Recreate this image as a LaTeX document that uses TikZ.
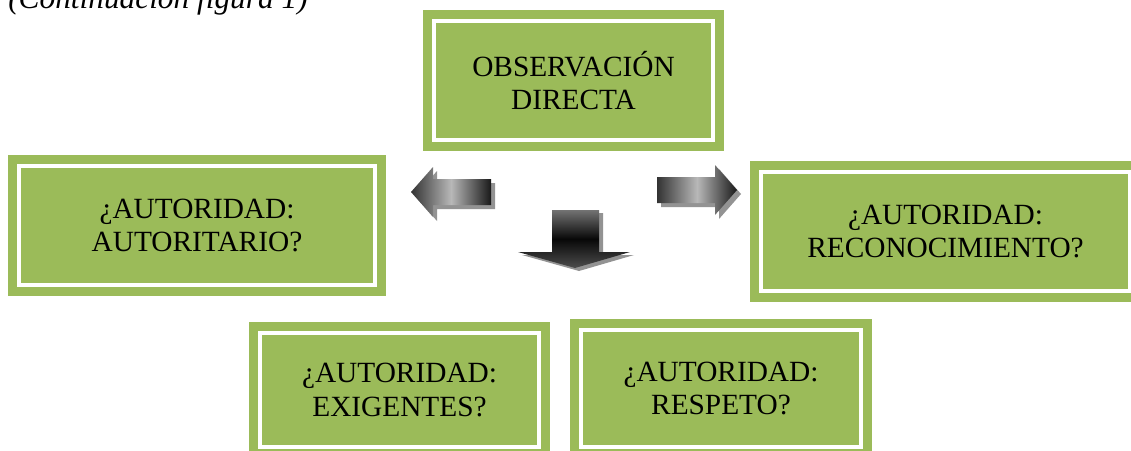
\documentclass[tikz,border=0pt]{standalone}
\usepackage{fontspec}
\setmainfont{Liberation Serif}
\usepackage{xcolor}
\usepackage{tikz}
\definecolor{V1}{HTML}{9BBB59}
\definecolor{G1}{HTML}{939393}
\tikzset{
  caja/.style={draw=V1, fill=V1, double=white, double distance=3pt, line width=6.75pt, align=center, inner sep=0pt, font=\fontsize{22}{25}\selectfont},
  sombra/.style={fill=G1},
  flechah/.style={left color=black!80, right color=black!90, middle color=black!28},
  flechav/.style={top color=black!55, bottom color=black!70, middle color=black!97},
}

\begin{document}
\begin{tikzpicture}[x=0.75pt, y=-0.75pt]%
\useasboundingbox (0,0) rectangle (1131,450);%
\clip (0,0) rectangle (1131,450);%
\node[anchor=base west, inner sep=0pt, font=\fontsize{23.5}{26}\selectfont\itshape] (titulo) at (8, 8) {(Continuación figura 1)};%
\node[caja, minimum width=209.25pt, minimum height=89.25pt] (obs) at (573.5, 80.5) {OBSERVACIÓN\\DIRECTA};%
\node[caja, minimum width=267pt, minimum height=89.25pt] (autoritario) at (197, 225.5) {¿AUTORIDAD:\\AUTORITARIO?};%
\node[caja, minimum width=276.75pt, minimum height=89.25pt] (reconocimiento) at (945.5, 231.5) {¿AUTORIDAD:\\RECONOCIMIENTO?};%
\node[caja, minimum width=209.25pt, minimum height=85.5pt] (exigentes) at (399.5, 390) {¿AUTORIDAD:\\EXIGENTES?};%
\node[caja, minimum width=210pt, minimum height=87.5pt] (respeto) at (721, 388.5) {¿AUTORIDAD:\\RESPETO?};%
% flecha izquierda
\fill[sombra, shift={(4,4)}] (411,192) -- (433,167) -- (433,179) -- (491,179) -- (491,205) -- (433,205) -- (433,217) -- cycle;%
\shade[flechah] (411,192) -- (433,167) -- (433,179) -- (491,179) -- (491,205) -- (433,205) -- (433,217) -- cycle;%
% flecha derecha
\fill[sombra, shift={(4,4)}] (657,177) -- (715,177) -- (715,165) -- (737,190) -- (715,215) -- (715,203) -- (657,203) -- cycle;%
\shade[flechah] (657,177) -- (715,177) -- (715,165) -- (737,190) -- (715,215) -- (715,203) -- (657,203) -- cycle;%
% flecha abajo
\fill[sombra, shift={(4,3)}] (552,210) -- (599,210) -- (599,252) -- (630,252) -- (575,268) -- (518,252) -- (552,252) -- cycle;%
\shade[flechav] (552,210) -- (599,210) -- (599,252) -- (630,252) -- (575,268) -- (518,252) -- (552,252) -- cycle;%
\end{tikzpicture}
\end{document}
